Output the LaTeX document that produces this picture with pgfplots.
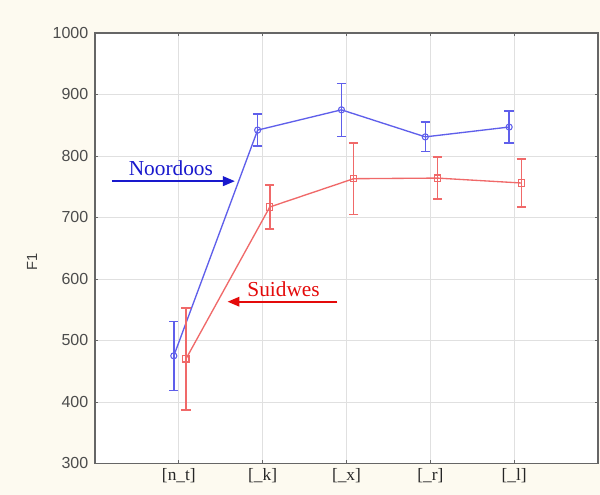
\documentclass[border=0pt]{standalone}
\usepackage{pgfplots}
\pgfplotsset{compat=1.18}
\usetikzlibrary{arrows.meta}
\usepackage{fontspec}
\setmainfont{Liberation Serif}
\setsansfont{Liberation Sans}
\definecolor{cream}{RGB}{253,250,240}
\definecolor{lblue}{RGB}{95,95,235}
\definecolor{lred}{RGB}{240,105,105}
\definecolor{dblue}{RGB}{25,25,205}
\definecolor{dred}{RGB}{228,10,10}
\begin{document}
\begin{tikzpicture}
\path[use as bounding box, fill=cream] (-71.25pt,-23.6pt) rectangle (378.75pt,347.6pt);
\begin{axis}[at={(0,0)}, anchor=south west, scale only axis,
  width=377.25pt, height=322.9pt,
  xmin=-1, xmax=5, ymin=300, ymax=1000,
  xtick={0,1,2,3,4}, xticklabels={[n\_t],[\_k],[\_x],[\_r],[\_l]},
  ytick={300,400,...,1000},
  grid=major, major grid style={black!12, line width=0.6pt},
  axis line style={black!60, line width=0.9pt},
  tick style={black!60, line width=0.6pt}, tick align=inside, major tick length=2.5pt,
  xticklabel style={font=\fontsize{13}{13}\selectfont\rmfamily, text=black!85},
  yticklabel style={font=\fontsize{12}{12}\selectfont\sffamily, text=black!70, xshift=-1.5pt},
  /pgf/number format/assume math mode=true, /pgf/number format/1000 sep={},
  ylabel={F1},
  ylabel style={font=\fontsize{11}{12}\selectfont\sffamily, text=black!75,
    at={(axis description cs:-0.125,0.468)}, anchor=center},
  axis background/.style={fill=white},
  clip=false,
  error bars/y dir=both, error bars/y explicit,
]
\addplot[lblue, line width=1pt, mark=o, mark size=2.3pt, mark options={solid, line width=0.8pt},
  error bars/.cd, error bar style={lblue, line width=1.1pt}, error mark options={lblue, rotate=90, mark size=3.5pt, line width=1.1pt}]
 coordinates {
  (-0.06,475) +- (0,56)
  (0.94,842) +- (0,26)
  (1.94,875) +- (0,43)
  (2.94,831) +- (0,24)
  (3.94,847) +- (0,26)
 };
\addplot[lred, line width=1pt, mark=square, mark size=2.3pt, mark options={solid, line width=0.8pt},
  error bars/.cd, error bar style={lred, line width=1.1pt}, error mark options={lred, rotate=90, mark size=3.5pt, line width=1.1pt}]
 coordinates {
  (0.085,470) +- (0,83)
  (1.085,717) +- (0,36)
  (2.085,763) +- (0,58)
  (3.085,764) +- (0,34)
  (4.085,756) +- (0,39)
 };
\draw[dblue, line width=1.8pt, -{Triangle[length=9pt,width=7pt]}] (axis cs:-0.80,759) -- (axis cs:0.67,759);
\node[dblue, anchor=base, inner sep=0pt, font=\fontsize{16}{16}\selectfont] at (axis cs:-0.095,768) {Noordoos};
\draw[dred, line width=1.8pt, -{Triangle[length=9pt,width=7pt]}] (axis cs:1.89,563) -- (axis cs:0.58,563);
\node[dred, anchor=base, inner sep=0pt, font=\fontsize{16}{16}\selectfont] at (axis cs:1.25,571) {Suidwes};
\end{axis}
\end{tikzpicture}
\end{document}
